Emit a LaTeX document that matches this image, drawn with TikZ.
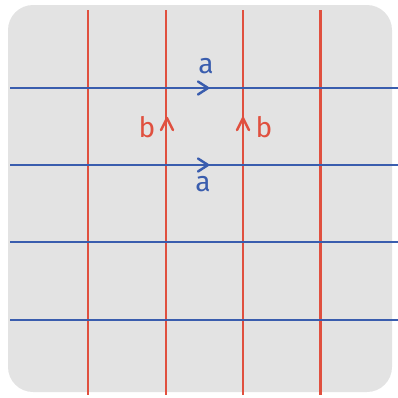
\documentclass[tikz,border=0pt]{standalone}
\usepackage{fontspec}
\setsansfont{Fira Sans}
\definecolor{sheetgray}{HTML}{E3E3E3}
\definecolor{gridred}{HTML}{E0503F}
\definecolor{gridblue}{HTML}{3A5DAE}
\tikzset{
  redline/.style={gridred, line width=0.75pt},
  blueline/.style={gridblue, line width=0.75pt},
  chev/.style={line width=0.7pt, line cap=round, line join=round},
  lbl/.style={font=\sffamily\fontsize{8}{9}\selectfont\mdseries, inner sep=0pt}
}

\begin{document}
\begin{tikzpicture}
  \useasboundingbox (0,0) rectangle (3.98,3.97);
  % paper
  \fill[sheetgray, rounded corners=0.25cm] (0.08,0.05) rectangle (3.92,3.92);
  % vertical lines
  \draw[redline] (0.88,3.87) -- (0.88,0.02);
  \draw[redline] (1.66,3.87) -- (1.66,0.02);
  \draw[redline] (2.43,3.87) -- (2.43,0.02);
  \draw[redline] (3.205,3.87) -- (3.205,0.02);
  % horizontal lines
  \draw[blueline] (0.10,3.09) -- (3.98,3.09);
  \draw[blueline] (0.10,2.32) -- (3.98,2.32);
  \draw[blueline] (0.10,1.55) -- (3.98,1.55);
  \draw[blueline] (0.10,0.77) -- (3.98,0.77);
  % edge marks
  \coordinate (topA) at (2.03,3.09);
  \coordinate (botA) at (2.03,2.32);
  \coordinate (leftB) at (1.67,2.73);
  \coordinate (rightB) at (2.43,2.73);
  \draw[chev, gridblue] ([shift={(-0.05,0.065)}]topA) -- ([shift={(0.05,0)}]topA) -- ([shift={(-0.05,-0.065)}]topA);
  \draw[chev, gridblue] ([shift={(-0.05,0.065)}]botA) -- ([shift={(0.05,0)}]botA) -- ([shift={(-0.05,-0.065)}]botA);
  \draw[chev, gridred] ([shift={(-0.06,-0.06)}]leftB) -- ([shift={(0,0.06)}]leftB) -- ([shift={(0.06,-0.06)}]leftB);
  \draw[chev, gridred] ([shift={(-0.06,-0.06)}]rightB) -- ([shift={(0,0.06)}]rightB) -- ([shift={(0.06,-0.06)}]rightB);
  % labels
  \node[lbl, gridblue] (labA1) at (2.06,3.31) {a};
  \node[lbl, gridblue] (labA2) at (2.03,2.13) {a};
  \node[lbl, gridred] (labB1) at (1.47,2.70) {b};
  \node[lbl, gridred] (labB2) at (2.64,2.70) {b};
\end{tikzpicture}
\end{document}
